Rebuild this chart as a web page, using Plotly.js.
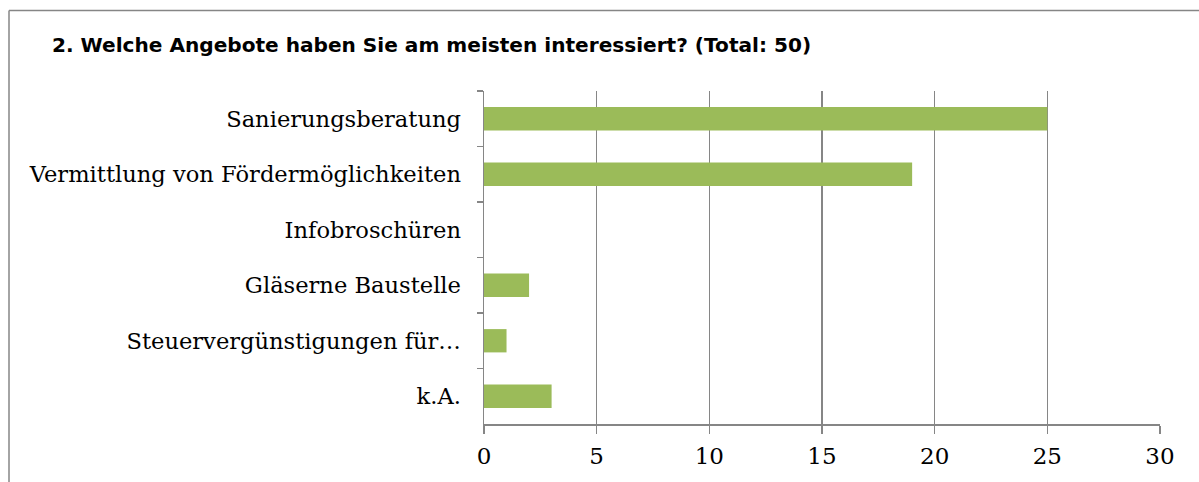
<!DOCTYPE html>
<html>
<head>
<meta charset="utf-8">
<script src="https://cdn.plot.ly/plotly-3.0.1.min.js"></script>
<style>
html,body{margin:0;padding:0;background:#fff;}
#chart{width:1199px;height:482px;}
</style>
</head>
<body>
<div id="chart"></div>
<script>
const categories = ["Sanierungsberatung", "Vermittlung von Fördermöglichkeiten", "Infobroschüren", "Gläserne Baustelle", "Steuervergünstigungen für…", "k.A."];
const values = [25, 19, 0, 2, 1, 3];
const xTicks = [0, 5, 10, 15, 20, 25, 30];
const titleText = "2. Welche Angebote haben Sie am meisten interessiert? (Total: 50)";

const W = 1199, H = 482;
const L = 484, R = 1160, T = 91, B = 424;
const pw = R - L, ph = B - T;
const px2x = p => (p - L) / pw;
const px2y = p => (B - p) / ph;

const trace = {
  type: 'bar',
  orientation: 'h',
  x: values,
  y: categories,
  marker: {color: '#9BBB59', line: {width: 0}},
  width: 0.42,
  hoverinfo: 'x+y'
};

const grey = '#868686';
const serif = 'DejaVu Serif, serif';
const layout = {
  width: W, height: H,
  margin: {l: L, r: W - R, t: T, b: H - B, pad: 0},
  paper_bgcolor: '#fff', plot_bgcolor: '#fff',
  showlegend: false,
  title: {
    text: '<b>' + titleText + '</b>',
    font: {family: 'DejaVu Sans, sans-serif', size: 20.1, color: '#000'},
    x: 52 / W, xref: 'container', xanchor: 'left',
    y: 1 - 45 / H, yref: 'container', yanchor: 'middle'
  },
  xaxis: {
    range: [0, 30],
    tickvals: xTicks,
    ticktext: xTicks.map(String),
    showgrid: true, gridcolor: grey, gridwidth: 1.5,
    showline: true, linecolor: grey, linewidth: 1.5,
    ticks: 'outside', ticklen: 8, tickwidth: 1.5, tickcolor: grey,
    ticklabelstandoff: 3,
    zeroline: false,
    tickfont: {family: serif, size: 23, color: '#000'},
    fixedrange: true
  },
  yaxis: {
    type: 'category',
    autorange: 'reversed',
    showgrid: false,
    showline: true, linecolor: grey, linewidth: 1.5,
    ticks: 'outside', ticklen: 6, tickwidth: 1.5, tickcolor: grey,
    tickson: 'boundaries',
    ticklabelstandoff: 17,
    zeroline: false,
    tickfont: {family: serif, size: 22.6, color: '#000'},
    fixedrange: true
  },
  shapes: [
    {type: 'line', xref: 'paper', yref: 'paper', x0: px2x(9), x1: px2x(9), y0: px2y(10.5), y1: px2y(500), line: {color: grey, width: 1.5}},
    {type: 'line', xref: 'paper', yref: 'paper', x0: px2x(9), x1: px2x(1210), y0: px2y(10.5), y1: px2y(10.5), line: {color: grey, width: 1.5}}
  ]
};

Plotly.newPlot('chart', [trace], layout, {displayModeBar: false, staticPlot: true});
</script>
</body>
</html>
